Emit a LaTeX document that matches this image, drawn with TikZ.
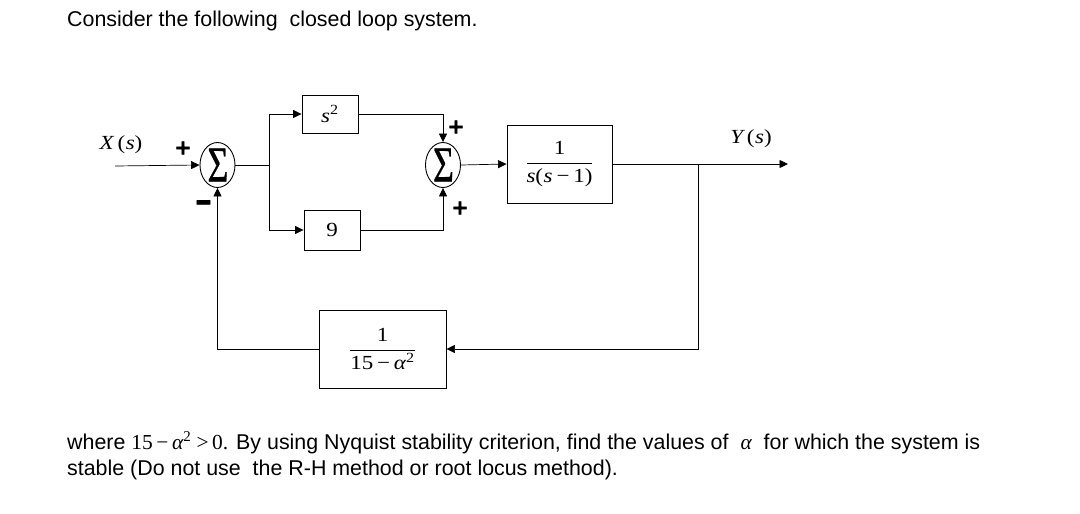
\documentclass[tikz,border=0pt]{standalone}
\usepackage{fontspec}
\usepackage{graphicx}
\setmainfont{Liberation Sans}
\newfontfamily\tms{Liberation Serif}
\newfontface\heavy[FakeBold=2.5]{DejaVu Sans Bold}
\newfontface\sigfont[FakeBold=0.6]{Liberation Serif}
\usetikzlibrary{shapes.geometric,arrows.meta}
\newcommand{\hsc}[1]{\scalebox{1.15}[1]{#1}}
\begin{document}
\begin{tikzpicture}[x=1pt,y=-1pt,
  blk/.style={draw, line width=0.9pt, inner sep=0pt, font=\tms\fontsize{20}{24}\selectfont},
  sumnode/.style={draw, ellipse, line width=0.9pt, inner sep=0pt, minimum width=35pt, minimum height=45pt},
  sigma/.style={inner sep=0pt, font=\sigfont\fontsize{40}{40}\selectfont},
  ln/.style={line width=0.7pt},
  arr/.style={ln, -{Triangle[length=8.5pt,width=8pt]}},
  sgn/.style={inner sep=0pt, font=\heavy\fontsize{20}{20}\selectfont},
  lbl/.style={inner sep=0pt, font=\tms\fontsize{20}{24}\selectfont},
  body/.style={inner sep=0pt, anchor=base west, font=\fontsize{21.4}{24}\selectfont}]
\useasboundingbox (0,0) rectangle (1080,514);
\fill[white] (0,0) rectangle (1080,514);

% body text
\node[body] (t1) at (67,26) {Consider the following\ \ closed loop system.};
\node[body] (t2) at (67,449) {where {\tms 15\,−\,{\itshape α}\textsuperscript{2}\ >\,0.} By using Nyquist stability criterion, find the values of \ {\tms\itshape α} \ for which the system is};
\node[body] (t3) at (67,475) {stable (Do not use\ \ the R-H method or root locus method).};

% summing junctions
\node[sumnode] (s1) at (217.5,165) {};
\node[sigma] (sig1) at (218,165) {\scalebox{0.9}[1.25]{Σ}};
\node[sumnode] (s2) at (443,165) {};
\node[sigma] (sig2) at (443.5,165) {\scalebox{0.9}[1.25]{Σ}};

% blocks
\node[blk, minimum width=56pt, minimum height=38pt] (bs2) at (330,114) {\hsc{{\itshape s}\textsuperscript{2}}};
\node[blk, minimum width=56pt, minimum height=40pt] (b9) at (332,230) {\hsc{9}};
\node[blk, minimum width=105pt, minimum height=78pt] (G) at (559.5,164)
  {\hsc{$\displaystyle\frac{\hbox{\tms 1}}{\hbox{\tms{\itshape s}(\kern0.5pt{\itshape s}\,−\,1)}}$}};
\node[blk, minimum width=127pt, minimum height=78pt] (H) at (382.5,349)
  {\hsc{$\displaystyle\frac{\hbox{\tms 1}}{\hbox{\tms 15\,−\,{\itshape α}\textsuperscript{2}}}$}};

% labels
\node[lbl] (X) at (121,145) {\hsc{{\itshape X}\,(\kern0.5pt{\itshape s})}};
\node[lbl] (Y) at (751,139) {\hsc{{\itshape Y}\,(\kern0.5pt{\itshape s})}};

% signs
\node[sgn] (p1) at (183,148) {+};
\node[sgn] (m1) at (203.5,206.5) {\scalebox{1.05}[1.6]{−}};
\node[sgn] (p2) at (456,127) {+};
\node[sgn] (p3) at (460,208) {+};

% coordinates
\coordinate (xin) at (115,166);
\coordinate (br1) at (269,165);
\coordinate (br2) at (698,164);
\coordinate (yout) at (788,164);

% connectors
\draw[arr] (xin) -- (s1.west);
\draw[ln] (s1.east) -- (br1);
\draw[arr] (br1) |- (bs2.west);
\draw[arr] (br1) |- (b9.west);
\draw[arr] (bs2.east) -| (s2.north);
\draw[arr] (b9.east) -| (s2.south);
\draw[arr] (s2.east) -- (G.west);
\draw[arr] (G.east) -- (yout);
\draw[arr] (br2) |- (H.east);
\draw[arr] (H.west) -| (s1.south);
\end{tikzpicture}
\end{document}
